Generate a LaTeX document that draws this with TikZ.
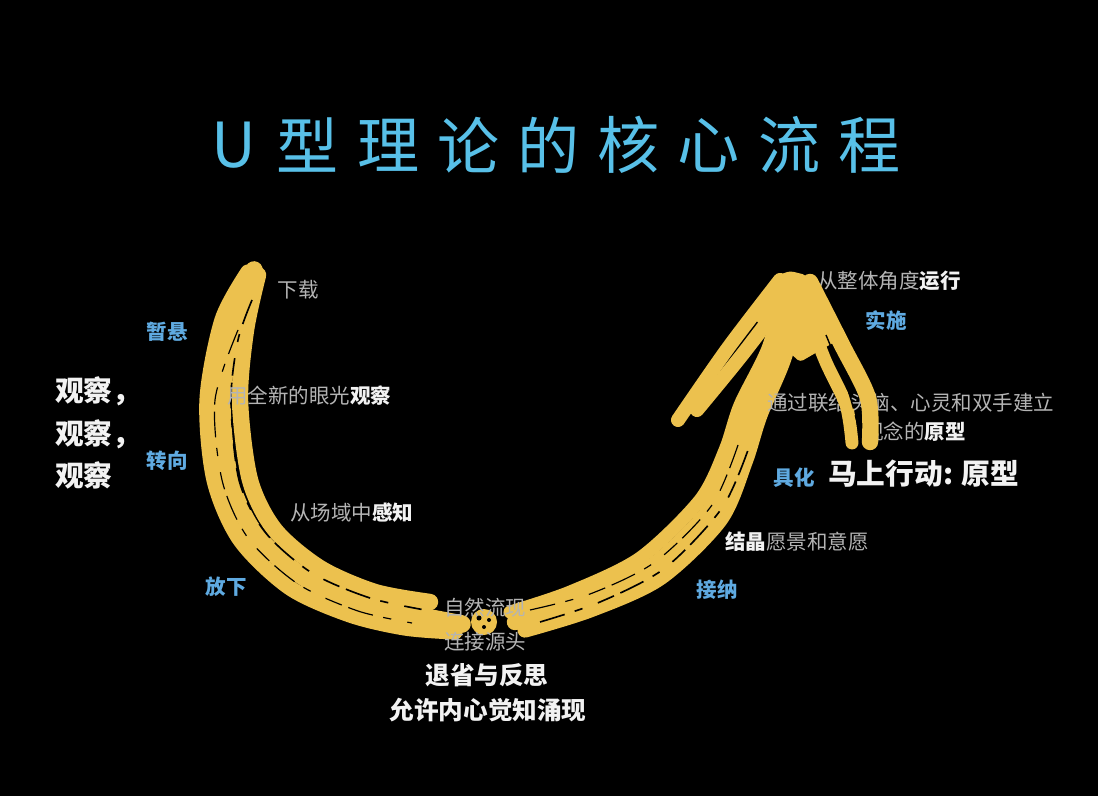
\documentclass[tikz,border=0pt]{standalone}
\usepackage{fontspec}
\setmainfont{Noto Sans CJK SC}
\usetikzlibrary{positioning}
\definecolor{titleblue}{RGB}{88,192,232}
\definecolor{stageblue}{RGB}{95,170,225}
\definecolor{brush}{RGB}{236,193,78}
\definecolor{notegrey}{RGB}{180,180,180}
\definecolor{keywhite}{RGB}{242,242,242}
\newcommand{\hl}[1]{{\bfseries\color{keywhite}#1}}
\tikzset{>=stealth,
  heading/.style={text=titleblue, font=\fontsize{53}{60}\selectfont, inner sep=0pt},
  stage/.style={text=stageblue, font=\fontsize{17.5}{20}\selectfont\bfseries, inner sep=0pt},
  note/.style={text=notegrey, font=\fontsize{17.5}{20}\selectfont, inner sep=0pt},
  key/.style={text=keywhite, font=\fontsize{21}{26}\selectfont\bfseries, inner sep=0pt},
  bigkey/.style={text=keywhite, font=\fontsize{24.5}{36}\selectfont\bfseries, inner sep=0pt},
  strand/.style={draw=brush, line width=#1, line cap=round, line join=round},
  strand/.default=13pt,
  streak/.style={draw=black, line width=#1, dash pattern=on 22pt off 9pt on 7pt off 14pt on 15pt off 6pt},
  streak/.default=1.4pt
}

\begin{document}
\begin{tikzpicture}[x=0.03cm, y=-0.03cm]
     \fill[black] (0,0) rectangle (1098,796);
     % title
     \node[heading] (tU) at (234,145) {U};
     \foreach \ch [count=\i] in {型,理,论,的,核,心,流,程}
        \node[heading] (t\i) at ({308+80.2*(\i-1)},145) {\ch};
     % left arm of the U
     \draw[strand] plot[smooth] coordinates {(248,272) (222,320) (207,400) (214,480) (240,540) (290,588) (350,615) (405,628) (455,632)};
     \draw[strand=15pt] plot[smooth] coordinates {(254,270) (234,320) (222,400) (230,480) (256,535) (305,578) (365,605) (420,616) (462,624)};
     \draw[strand=14pt] plot[smooth] coordinates {(258,275) (246,330) (240,400) (250,480) (275,530) (320,568) (375,592) (430,602)};
     \draw[streak] plot[smooth] coordinates {(252,300) (238,340) (231,400) (239,480) (265,532) (312,573) (370,598) (425,610)};
     \draw[streak=1pt] plot[smooth] coordinates {(238,330) (215,400) (222,480) (248,538) (298,584) (358,611) (412,623)};
     % bottom of the U
     \fill[brush] (484,622) circle [radius=13];
     \fill[black] (479,618) circle [radius=2.5] (489,620) circle [radius=2] (484,627) circle [radius=2];
     % right arm of the U
     \draw[strand] plot[smooth] coordinates {(525,630) (590,610) (660,578) (720,520) (745,462) (760,415) (785,355) (800,285)};
     \draw[strand=14pt] plot[smooth] coordinates {(515,622) (580,600) (650,568) (710,510) (735,455) (750,410) (776,350) (792,282)};
     \draw[strand=11pt] plot[smooth] coordinates {(510,612) (570,592) (640,558) (700,500) (725,450) (740,405) (768,348) (786,285)};
     \draw[streak] plot[smooth] coordinates {(540,622) (600,602) (665,568) (722,508) (748,450)};
     \draw[streak=1pt] plot[smooth] coordinates {(530,610) (590,594) (655,562) (712,505) (738,445)};
     % texts
     \node[note] (download) at (298,290) {下载};
     \node[stage] (suspend) at (167,332) {暂悬};
     \node[stage] (redirect) at (167,461) {转向};
     \node[stage] (letgo) at (226,587) {放下};
     \node[bigkey, align=left, anchor=west] (observe) at (55,433) {观察，\\观察，\\观察};
     \node[note, anchor=west] (seeing) at (227,396) {用全新的眼光\hl{观察}};
     \node[note, anchor=west] (sensing) at (290,513) {从场域中\hl{感知}};
     \node[note] (flow) at (485,608) {自然流现};
     \node[note] (source) at (485,642) {连接源头};
     \node[key] (retreat) at (487,675) {退省与反思};
     \node[key] (knowing) at (488,710) {允许内心觉知涌现};
     \node[stage] (letcome) at (717,590) {接纳};
     \node[note, anchor=west] (crystal) at (725,542) {\hl{结晶}愿景和意愿};
     \node[stage] (embody) at (794,478) {具化};
     \node[bigkey, anchor=west] (act) at (828,474) {马上行动: 原型};
     \node[note, anchor=west] (proto) at (767,403) {通过联结头脑、心灵和双手建立};
     \node[note, anchor=west] (proto2) at (863,432) {观念的\hl{原型}};
     \node[stage] (perform) at (886,321) {实施};
     \node[note, anchor=west] (whole) at (817,281) {从整体角度\hl{运行}};
     % arrow head
     \fill[brush, rounded corners=3pt] (776,276) -- (790,271) -- (806,275) -- (838,340) -- (800,362) -- (770,335) -- (748,312) -- cycle;
     \draw[strand=12pt] plot[smooth] coordinates {(780,280) (728,348) (678,420)};
     \draw[strand=12pt] plot[smooth] coordinates {(790,292) (742,355) (697,410)};
     \draw[strand=14pt] plot[smooth] coordinates {(810,282) (842,345) (868,398) (870,442)};
     \draw[strand=11pt] plot[smooth] coordinates {(802,300) (825,360) (846,405) (852,443)};
     \draw[streak=1.2pt] plot[smooth] coordinates {(826,335) (848,390) (861,438)};
\end{tikzpicture}
\end{document}
